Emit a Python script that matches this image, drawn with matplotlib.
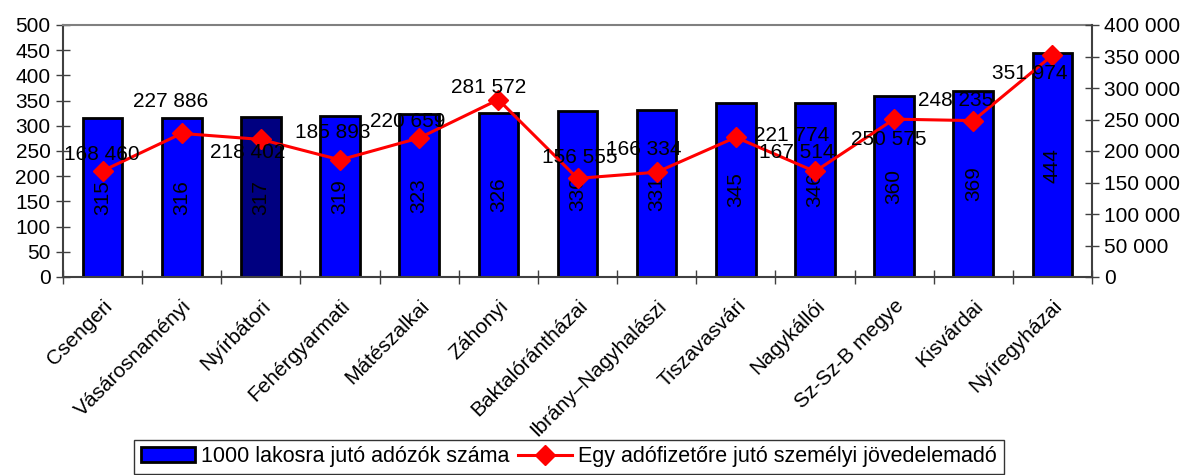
import numpy as np
import matplotlib
matplotlib.use('Agg')
import matplotlib.pyplot as plt
import matplotlib.transforms as mtransforms
from matplotlib.ticker import FuncFormatter, FixedLocator

plt.rcParams['font.family'] = ['Liberation Sans', 'DejaVu Sans']

categories = ['Csengeri', 'Vásárosnaményi', 'Nyírbátori', 'Fehérgyarmati', 'Mátészalkai',
              'Záhonyi', 'Baktalórántházai', 'Ibrány–Nagyhalászi', 'Tiszavasvári',
              'Nagykállói', 'Sz-Sz-B megye', 'Kisvárdai', 'Nyíregyházai']
taxpayers = [315, 316, 317, 319, 323, 326, 330, 331, 345, 346, 360, 369, 444]
income_tax = [168460, 227886, 218402, 185893, 220659, 281572, 156555,
              166334, 221774, 167514, 250575, 248235, 351974]

# label offsets in pixels (dx, dy) as placed in the original
label_offsets = [(-1, 16), (-11, 32), (-13, -13), (-7, 27), (-12, 16), (-10, 12), (2, 21),
                 (-13, 23), (56, 2), (-18, 19), (-5, -20), (-18, 20), (-23, -18)]

bar_colors = ['#0000FF'] * len(categories)
bar_colors[2] = '#000080'

def space_fmt(v):
    return '{:,.0f}'.format(v).replace(',', ' ')

fig = plt.figure(figsize=(11.86, 4.75), dpi=100)
ax = fig.add_axes([63/1186, 1 - 277/475, (1092-63)/1186, (277-25)/475])
x = np.arange(len(categories))

bars = ax.bar(x, taxpayers, width=0.5, color=bar_colors, edgecolor='black', linewidth=2,
              zorder=2, label='1000 lakosra jutó adózók száma')
for xi, v in zip(x, taxpayers):
    ax.text(xi, v / 2, str(v), rotation=90, ha='center', va='center', fontsize=15, zorder=5)

ax.set_xlim(-0.5, len(categories) - 0.5)
ax.set_ylim(0, 500)
ax.set_yticks(np.arange(0, 501, 50))
ax.xaxis.set_major_locator(FixedLocator(x))
ax.set_xticklabels(categories, rotation=45, ha='right', rotation_mode='anchor', fontsize=15)
shift = mtransforms.ScaledTranslation(-8/100, 0, fig.dpi_scale_trans)
for lbl in ax.get_xticklabels():
    lbl.set_transform(lbl.get_transform() + shift)
ax.tick_params(axis='x', length=0, pad=14)
ax.xaxis.set_minor_locator(FixedLocator(np.arange(-0.5, len(categories), 1.0)))
ax.tick_params(axis='x', which='minor', length=10, width=1, color='#404040', direction='inout')
ax.tick_params(axis='y', labelsize=15, length=10, width=1, color='#404040', direction='inout', pad=4)
for s in ['left', 'bottom']:
    ax.spines[s].set_color('#404040')
    ax.spines[s].set_linewidth(1.5)
ax.spines['top'].set_color('#808080')
ax.spines['top'].set_linewidth(1.5)
ax.spines['right'].set_visible(False)

ax2 = ax.twinx()
line, = ax2.plot(x, income_tax, color='#FF0000', lw=2.2, marker='D', markersize=10,
                 zorder=4, label='Egy adófizetőre jutó személyi jövedelemadó')
ax2.set_ylim(0, 400000)
ax2.set_yticks(np.arange(0, 400001, 50000))
ax2.yaxis.set_major_formatter(FuncFormatter(lambda v, p: space_fmt(v)))
ax2.tick_params(axis='y', labelsize=15, length=10, width=1, color='#404040', direction='inout', pad=4)
ax2.spines['right'].set_color('#404040')
ax2.spines['right'].set_linewidth(1.5)
for s in ['left', 'top', 'bottom']:
    ax2.spines[s].set_visible(False)

for xi, v, (dx, dy) in zip(x, income_tax, label_offsets):
    ax2.annotate(space_fmt(v), (xi, v), xytext=(dx * 0.72, dy * 0.72), textcoords='offset points',
                 ha='center', va='center', fontsize=15, zorder=6)

leg = fig.legend([bars, line], [bars.get_label(), line.get_label()], loc='lower center',
                 bbox_to_anchor=(569/1186, -0.02), ncol=2, fontsize=15.5, frameon=True,
                 fancybox=False, edgecolor='black', handlelength=2.5, handletextpad=0.3,
                 columnspacing=0.4, borderpad=0.3)
leg.get_frame().set_linewidth(1)

fig.savefig('out.png', dpi=100)
